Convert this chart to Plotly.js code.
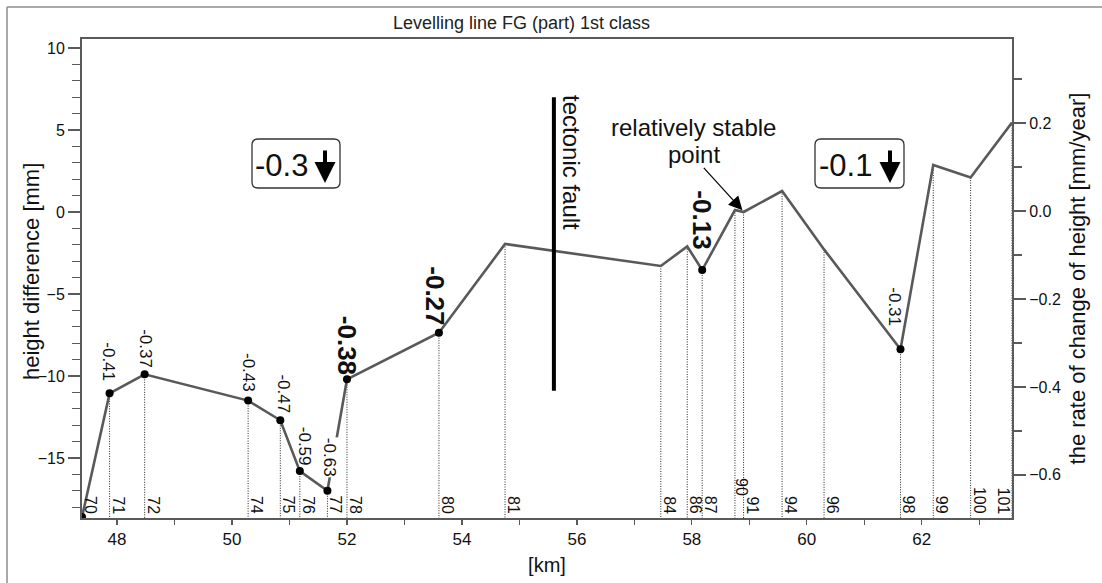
<!DOCTYPE html>
<html><head><meta charset="utf-8">
<script src="https://cdn.plot.ly/plotly-3.0.1.min.js"></script>
<style>html,body{margin:0;padding:0;background:#fff}#chart{width:1102px;height:583px}</style>
</head><body><div id="chart"></div>
<script>
// ---------- data ----------
const stations = ['70','71','72','74','75','76','77','78','80','81','84','86','87','90','91','94','96','98','99','100','101'];
const km = [47.39,47.87,48.48,50.28,50.84,51.18,51.66,52.00,53.60,54.75,57.46,57.92,58.18,58.75,58.90,59.57,60.30,61.63,62.20,62.85,63.57];
const heightMm = [-18.6,-11.06,-9.9,-11.5,-12.7,-15.8,-17.0,-10.2,-7.36,-1.95,-3.29,-2.1,-3.54,0.12,0.0,1.28,-2.28,-8.37,2.87,2.1,5.45];
const markerStations = ['70','71','72','74','75','76','77','78','80','87','98'];
const rateStations = ['71','72','74','75','76','77','78','80','87','98'];
const rateValues = [-0.41,-0.37,-0.43,-0.47,-0.59,-0.63,-0.38,-0.27,-0.13,-0.31];
const boldRateStations = ['78','80','87'];
const sectionRates = ['-0.3','-0.1'];
const faultKm = 55.6, faultTop = 7.0, faultBottom = -10.9;
const stablePoint = '91';
const xTickVals = [48,50,52,54,56,58,60,62];
const yTickVals = [-15,-10,-5,0,5,10];
const y2TickVals = [-0.6,-0.4,-0.2,0.0,0.2];

// ---------- layout helpers ----------
const W=1102, H=583, M={l:82,r:90,t:39,b:65};
const xRange=[47.39,63.57], yRange=[-18.66,10.55], y2Range=[-0.698,0.391];
const PW=W-M.l-M.r, PH=H-M.t-M.b;
const px = x => (x-M.l)/PW;
const py = y => (H-M.b-y)/PH;
const FONT = 'Liberation Sans, Arial, sans-serif';
const AX = '#5a5a5a';

const idx = s => stations.indexOf(s);

// value-label pixel offsets (style only)
const rateLabelShift = {'71':[-1,11],'72':[0,5],'74':[1,8],'75':[3,6],'76':[5,4],'77':[2,13],'78':[0,3],'80':[-4,6],'87':[0,20],'98':[-6,22]};
const stationLabelShift = {'90':[7,21],'101':[-9,3]};

// ---------- traces ----------
const dotX=[], dotY=[];
stations.forEach((s,i)=>{ if(i>0){ dotX.push(km[i],km[i],null); dotY.push(heightMm[i],yRange[0],null);} });

const traces = [
  {x:dotX, y:dotY, mode:'lines', line:{color:'#222', width:1, dash:'1px,1.5px'}, hoverinfo:'skip', showlegend:false},
  {x:km, y:heightMm, mode:'lines', line:{color:'#595959', width:2.6}, showlegend:false},
  {x:markerStations.map(s=>km[idx(s)]), y:markerStations.map(s=>heightMm[idx(s)]), mode:'markers',
   marker:{color:'#000', size:8}, showlegend:false},
  {x:rateStations.map(s=>km[idx(s)]), y:rateValues, yaxis:'y2', mode:'markers', marker:{opacity:0}, hoverinfo:'skip', showlegend:false}
];

// ---------- annotations ----------
const ann = [];
ann.push({xref:'paper', yref:'paper', x:px(521), y:py(23), text:'Levelling line FG (part) 1st class', showarrow:false,
  font:{family:FONT, size:18, color:'#222'}, xanchor:'center', yanchor:'middle'});
ann.push({xref:'paper', yref:'paper', x:px(31), y:py(272), text:'height difference [mm]', showarrow:false, textangle:-90,
  font:{family:FONT, size:22, color:'#111'}, xanchor:'center', yanchor:'middle'});

rateStations.forEach((s,j)=>{
  const i = idx(s), bold = boldRateStations.includes(s);
  const sh = rateLabelShift[s] || [0,5];
  ann.push({x:km[i], y:heightMm[i], xref:'x', yref:'y', text: bold ? '<b>'+rateValues[j].toFixed(2)+'</b>' : rateValues[j].toFixed(2),
    showarrow:false, textangle:90, xanchor:'center', yanchor:'bottom', xshift:sh[0], yshift:sh[1],
    font:{family:FONT, size: bold?26:17, color:'#111'}, bgcolor: s==='77' ? '#fff' : 'rgba(0,0,0,0)', borderpad:0});
});

stations.forEach((s,i)=>{
  const sh = stationLabelShift[s] || [9,3];
  ann.push({x:km[i], y:0, xref:'x', yref:'paper', text:s, showarrow:false, textangle:90,
    xanchor:'center', yanchor:'bottom', xshift:sh[0], yshift:sh[1], borderpad:0,
    font:{family:FONT, size:16, color:'#111'}});
});

// section rate boxes
const boxes = [{x0:252,x1:340,tx:281.5,ax:325},{x0:815,x1:904,tx:845.5,ax:890}];
const boxY0=139, boxY1=188;
boxes.forEach((b,k)=>{
  ann.push({xref:'paper', yref:'paper', x:px(b.tx), y:py(165), text:sectionRates[k], showarrow:false,
    font:{family:FONT, size:31, color:'#111'}, xanchor:'center', yanchor:'middle'});
  ann.push({xref:'paper', yref:'paper', x:px(b.ax), y:py(183), text:'', showarrow:true, ax:0, ay:-34,
    arrowhead:2, arrowwidth:4, arrowsize:1.05, arrowcolor:'#000'});
});

// relatively stable point
ann.push({xref:'paper', yref:'paper', x:px(693.5), y:py(128), text:'relatively stable', showarrow:false,
  font:{family:FONT, size:24, color:'#111'}, xanchor:'center', yanchor:'middle'});
ann.push({xref:'paper', yref:'paper', x:px(694), y:py(154), text:'point', showarrow:false,
  font:{family:FONT, size:24, color:'#111'}, xanchor:'center', yanchor:'middle'});
ann.push({x:km[idx(stablePoint)]-0.02, y:heightMm[idx(stablePoint)]+0.1, xref:'x', yref:'y', text:'', showarrow:true,
  ax:-40, ay:-44, arrowhead:2, arrowwidth:1.2, arrowsize:2.3, arrowcolor:'#000'});

// tectonic fault label
ann.push({xref:'paper', yref:'paper', x:px(571), y:py(162), text:'tectonic fault', showarrow:false, textangle:90,
  font:{family:FONT, size:24, color:'#111'}, xanchor:'center', yanchor:'middle'});

// ---------- shapes ----------
function roundRect(x0,y0,x1,y1,r){
  const X=px, Y=py;
  return `M ${X(x0+r)},${Y(y0)} L ${X(x1-r)},${Y(y0)} Q ${X(x1)},${Y(y0)} ${X(x1)},${Y(y0+r)} L ${X(x1)},${Y(y1-r)} Q ${X(x1)},${Y(y1)} ${X(x1-r)},${Y(y1)} L ${X(x0+r)},${Y(y1)} Q ${X(x0)},${Y(y1)} ${X(x0)},${Y(y1-r)} L ${X(x0)},${Y(y0+r)} Q ${X(x0)},${Y(y0)} ${X(x0+r)},${Y(y0)} Z`;
}
const shapes = [
  {type:'line', xref:'paper', yref:'paper', x0:px(7), y0:py(7), x1:px(1102), y1:py(7), line:{color:'#8c8c8c', width:1.5}},
  {type:'line', xref:'paper', yref:'paper', x0:px(7), y0:py(7), x1:px(7), y1:py(583), line:{color:'#8c8c8c', width:1.5}},
  {type:'line', xref:'x', yref:'y', x0:faultKm, x1:faultKm, y0:faultTop, y1:faultBottom, line:{color:'#000', width:4}},
];
boxes.forEach(b=>shapes.push({type:'path', xref:'paper', yref:'paper', path:roundRect(b.x0,boxY0,b.x1,boxY1,6),
  line:{color:'#333', width:1.3}, fillcolor:'rgba(0,0,0,0)'}));

const layout = {
  width:W, height:H, margin:M, paper_bgcolor:'#fff', plot_bgcolor:'#fff', showlegend:false,
  font:{family:FONT, color:'#111'},
  xaxis:{range:xRange, tickvals:xTickVals, ticks:'outside', ticklen:5, tickwidth:1.3, tickcolor:AX,
    showline:true, linecolor:AX, linewidth:2, mirror:true, showgrid:false, zeroline:false,
    tickfont:{family:FONT, size:17, color:'#111'},
    minor:{dtick:1, tick0:48, ticks:'outside', ticklen:5, tickwidth:1.3, tickcolor:AX, showgrid:false},
    title:{text:'[km]', font:{family:FONT, size:20, color:'#111'}, standoff:10}},
  yaxis:{range:yRange, tickvals:yTickVals, ticks:'outside', ticklen:12, tickwidth:1.3, tickcolor:AX,
    showline:true, linecolor:AX, linewidth:2, showgrid:false, zeroline:false,
    tickfont:{family:FONT, size:16, color:'#111'},
    minor:{dtick:1, tick0:0, ticks:'outside', ticklen:8, tickwidth:1.3, tickcolor:AX, showgrid:false}},
  yaxis2:{range:y2Range, overlaying:'y', side:'right', tickvals:y2TickVals, tickformat:'.1f', ticks:'outside', ticklen:12, tickwidth:1.3, tickcolor:AX,
    showline:true, linecolor:AX, linewidth:2, showgrid:false, zeroline:false,
    tickfont:{family:FONT, size:16, color:'#111'},
    minor:{dtick:0.1, tick0:0, ticks:'outside', ticklen:8, tickwidth:1.3, tickcolor:AX, showgrid:false},
    title:{text:'the rate of change of height [mm/year]', font:{family:FONT, size:22, color:'#111'}, standoff:10}},
  annotations:ann, shapes:shapes
};
Plotly.newPlot('chart', traces, layout, {staticPlot:true, displayModeBar:false});
</script></body></html>
